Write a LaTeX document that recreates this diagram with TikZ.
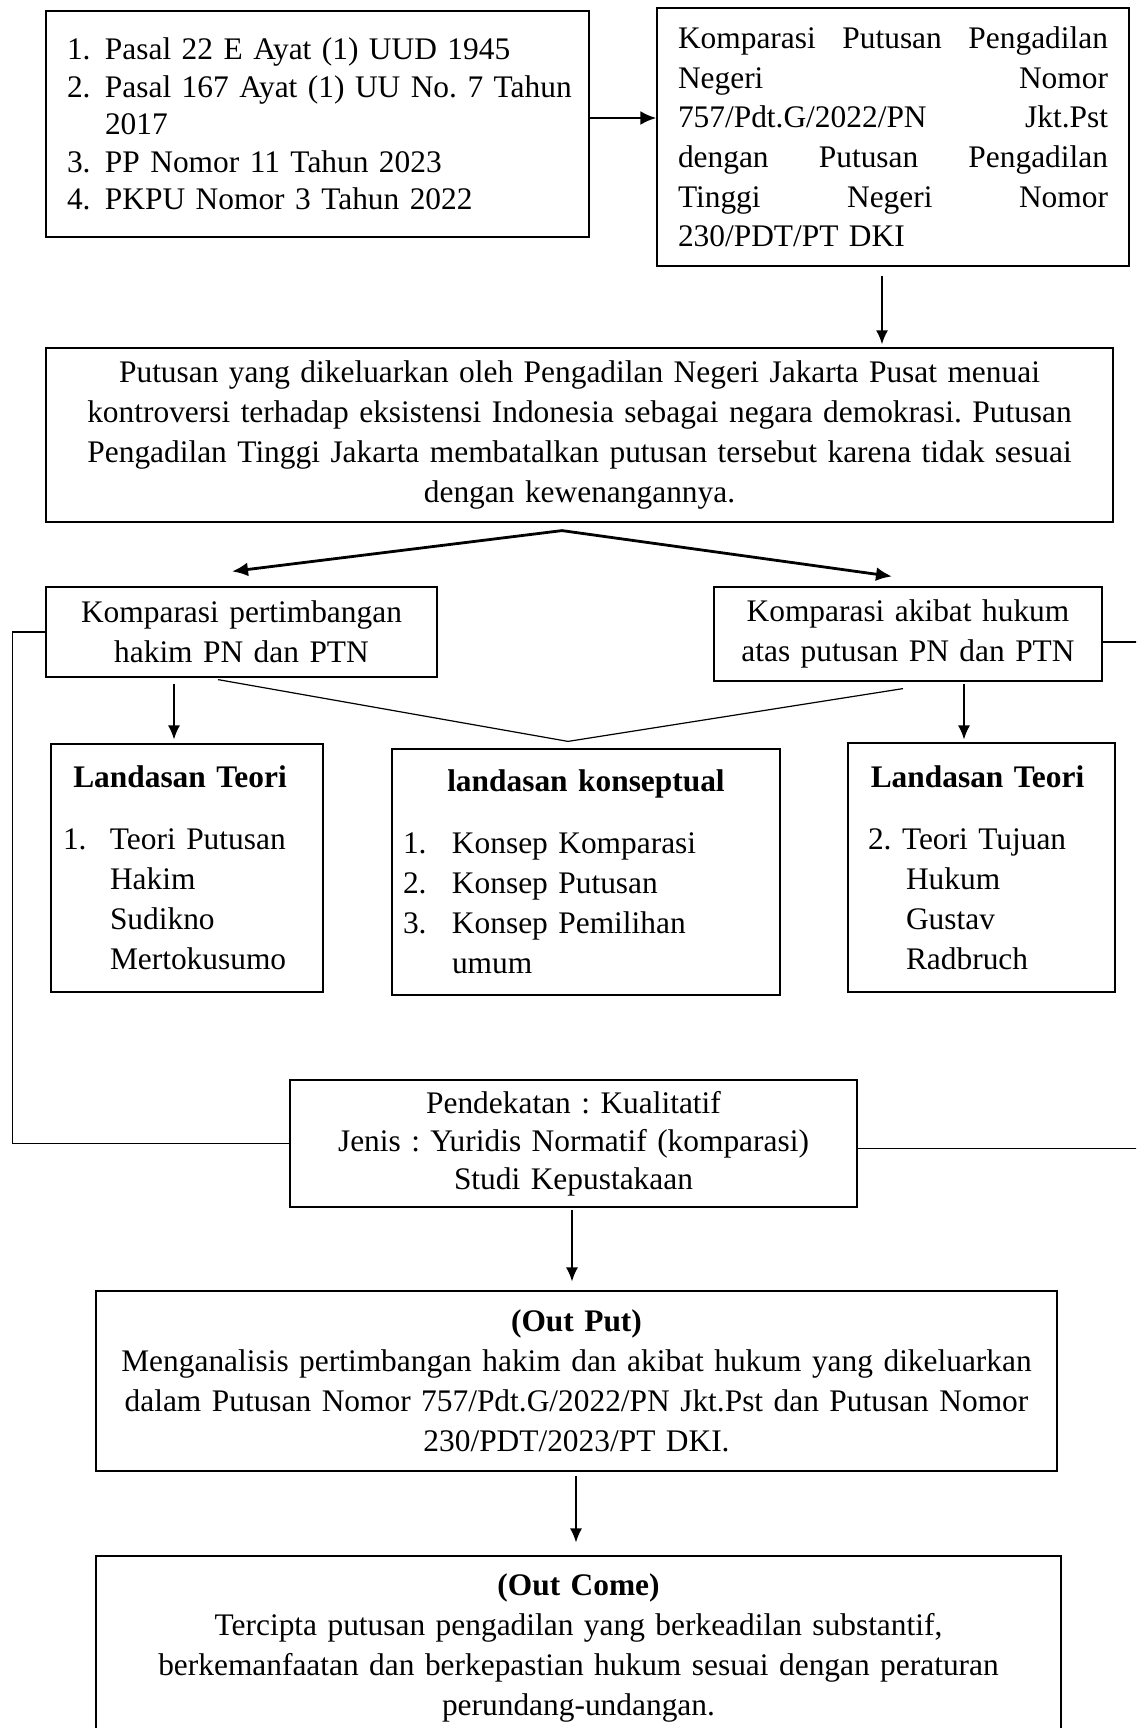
\documentclass[tikz,border=0pt]{standalone}
\usepackage{fontspec}
\setmainfont{Liberation Serif}
\usetikzlibrary{arrows.meta,calc}
\frenchspacing
\begin{document}
\begin{tikzpicture}[x=0.5pt,y=-0.5pt,
  box/.style={draw=black,line width=0.6pt,inner ysep=0pt,font=\frenchspacing\fontsize{15.7pt}{20pt}\selectfont},
  arr/.style={-{Latex[length=7pt,width=6pt]},line width=0.7pt},
  arrmid/.style={-{Latex[length=7pt,width=6pt]},line width=1pt},
  arrthick/.style={-{Latex[length=8pt,width=7pt]},line width=1.4pt},
  conn/.style={line width=0.6pt}]
\useasboundingbox (0,0) rectangle (1136,1728);
\clip (0,0) rectangle (1136,1728);
\fill[white] (0,0) rectangle (1136,1728);

% box 1
\node[box, minimum width=271.5pt, minimum height=113pt, text width=250.5pt, inner xsep=10.5pt, align=left,
  font=\frenchspacing\fontsize{15.7pt}{18.75pt}\selectfont] (b1) at (317.5,124) {%
\mbox{\makebox[19pt][l]{1.}Pasal 22 E Ayat (1) UUD 1945}\\
\mbox{\makebox[19pt][l]{2.}Pasal 167 Ayat (1) UU No. 7 Tahun}\\
\mbox{\hspace*{19pt}2017}\\
\mbox{\makebox[19pt][l]{3.}PP Nomor 11 Tahun 2023}\\
\mbox{\makebox[19pt][l]{4.}PKPU Nomor 3 Tahun 2022}};

% box 2
\node[box, minimum width=236pt, minimum height=129pt, text width=215pt, inner xsep=10.5pt, align=left,
  font=\frenchspacing\fontsize{15.7pt}{19.85pt}\selectfont] (b2) at (893,137) {%
Komparasi\hfill Putusan\hfill Pengadilan\\
Negeri\hfill Nomor\\
757/Pdt.G/2022/PN\hfill Jkt.Pst\\
dengan\hfill Putusan\hfill Pengadilan\\
Tinggi\hfill Negeri\hfill Nomor\\
230/PDT/PT DKI};

% box 3
\node[box, minimum width=533.5pt, minimum height=87pt, text width=520pt, align=center] (b3) at (579.5,435) {%
Putusan yang dikeluarkan oleh Pengadilan Negeri Jakarta Pusat menuai\\
kontroversi terhadap eksistensi Indonesia sebagai negara demokrasi. Putusan\\
Pengadilan Tinggi Jakarta membatalkan putusan tersebut karena tidak sesuai\\
dengan kewenangannya.};

% box 4, 5
\node[box, minimum width=195.5pt, minimum height=45pt, text width=185pt, align=center] (b4) at (241.5,632) {%
Komparasi pertimbangan\\hakim PN dan PTN};
\node[box, minimum width=194pt, minimum height=47pt, text width=185pt, align=center] (b5) at (908,634) {%
Komparasi akibat hukum\\atas putusan PN dan PTN};

% box 7, 8, 9
\node[box, minimum width=136pt, minimum height=124pt, text width=124pt, inner xsep=6pt, align=left] (b7) at (187,868) {%
\makebox[\linewidth][c]{\hspace*{-7pt}\textbf{Landasan Teori}}\\[11pt]
\makebox[23.5pt][l]{1.}Teori Putusan\\
\hspace*{23.5pt}Hakim\\
\hspace*{23.5pt}Sudikno\\
\hspace*{23.5pt}Mertokusumo};
\node[box, minimum width=194pt, minimum height=123pt, text width=183pt, inner xsep=5.5pt, align=left] (b8) at (586,872) {%
\makebox[\linewidth][c]{\textbf{landasan konseptual}}\\[11pt]
\makebox[24.5pt][l]{1.}Konsep Komparasi\\
\makebox[24.5pt][l]{2.}Konsep Putusan\\
\makebox[24.5pt][l]{3.}Konsep Pemilihan\\
\hspace*{24.5pt}umum};
\node[box, minimum width=133.5pt, minimum height=124.5pt, text width=113.5pt, inner xsep=10pt, align=left] (b9) at (981.5,867.5) {%
\makebox[\linewidth][c]{\hspace*{-4pt}\textbf{Landasan Teori}}\\[11pt]
2. Teori Tujuan\\
\hspace*{19pt}Hukum\\
\hspace*{19pt}Gustav\\
\hspace*{19pt}Radbruch};

% box 6
\node[box, minimum width=283.5pt, minimum height=63.5pt, text width=270pt, align=center,
  font=\frenchspacing\fontsize{15.7pt}{19pt}\selectfont] (b6) at (573.5,1143.5) {%
Pendekatan : Kualitatif\\
Jenis : Yuridis Normatif (komparasi)\\
Studi Kepustakaan};

% box 10, 11
\node[box, minimum width=480.5pt, minimum height=90pt, text width=470pt, align=center] (b10) at (576.5,1381) {%
\textbf{(Out Put)}\\
Menganalisis pertimbangan hakim dan akibat hukum yang dikeluarkan\\
dalam Putusan Nomor 757/Pdt.G/2022/PN Jkt.Pst dan Putusan Nomor\\
230/PDT/2023/PT DKI.};
\node[box, minimum width=482.5pt, minimum height=92pt, text width=470pt, align=center] (b11) at (578.5,1648) {%
\textbf{(Out Come)}\\
Tercipta putusan pengadilan yang berkeadilan substantif,\\
berkemanfaatan dan berkepastian hukum sesuai dengan peraturan\\
perundang-undangan.};

% connectors
\draw[arrthick] ($(b1.east)+(0,-6)$) -- ($(b1.east -| b2.west)+(0,-6)$);
\draw[arrmid] ($(b2.south)+(-11,9)$) -- ($(b2.south |- b3.north)+(-11,-3)$);
\coordinate (fan) at ($(b3.south)+(-17.5,8)$);
\draw[arrthick] (fan) -- ($(b4.north)+(-9.5,-15)$);
\draw[arrthick] (fan) -- ($(b5.north)+(-16,-10)$);
\draw[arr] ($(b4.south)+(-67.5,6)$) -- ($(b4.south |- b7.north)+(-67.5,-4)$);
\draw[arr] ($(b5.south)+(56,2)$) -- ($(b5.south |- b9.north)+(56,-3)$);
\coordinate (vapex) at ($(b8.north)+(-18,-7)$);
\draw[conn] ($(b4.south)+(-23.5,2)$) -- (vapex) -- ($(b5.south)+(-5,7)$);
\draw[conn] (b4.west) -- ++(-33,0) |- (b6.west);
\coordinate (rtop) at ($(b5.east)+(40,8)$);
\draw[conn] ($(b5.east)+(0,8)$) -- (rtop);
\coordinate (rbot) at ($(b6.east)+(290,5)$);
\draw[conn] ($(b6.east)+(0,5)$) -- (rbot);
\draw[arr] ($(b6.south)+(-1.5,2)$) -- ($(b6.south |- b10.north)+(-1.5,-9)$);
\draw[arr] ($(b10.south)+(-0.5,4)$) -- ($(b10.south |- b11.north)+(-0.5,-13)$);
\end{tikzpicture}
\end{document}
